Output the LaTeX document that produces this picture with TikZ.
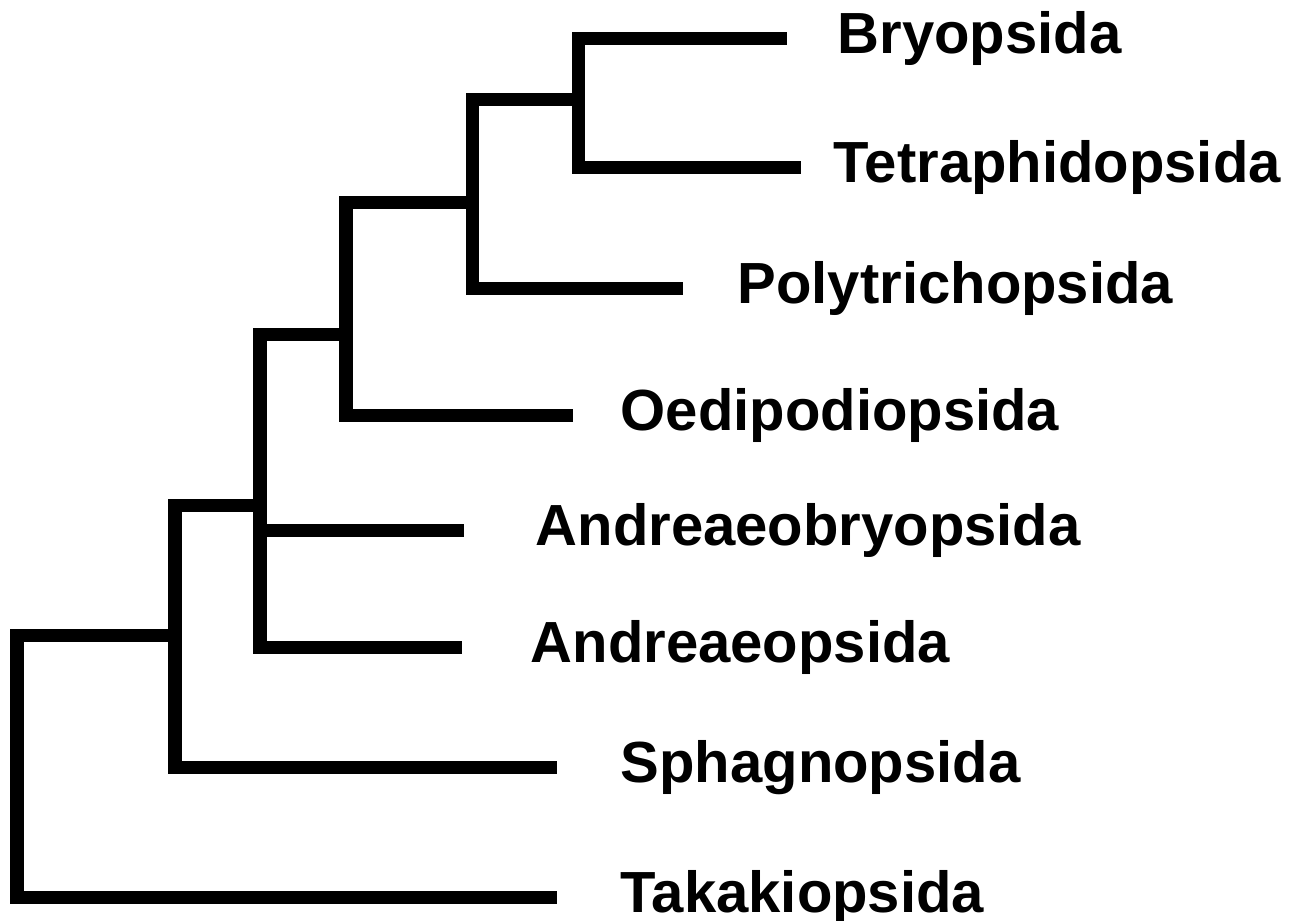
\documentclass[tikz,border=0pt]{standalone}
\usepackage{fontspec}
\setmainfont{Liberation Sans}
\begin{document}
\begin{tikzpicture}[x=0.01cm,y=-0.01cm,line join=miter,line cap=butt,
  branch/.style={line width=3.7pt},
  taxon/.style={anchor=base west,inner sep=0pt,font=\fontsize{16.5}{20}\selectfont\bfseries}]
  \useasboundingbox (0,0) rectangle (1291,920);
  \foreach \nm/\tipx/\y/\labx/\txt in {bry/787/38/837/Bryopsida,
      tet/801/167/833/Tetraphidopsida, pol/683/288/737/Polytrichopsida,
      oed/573/415/620/Oedipodiopsida, anb/464/530/535/Andreaeobryopsida,
      and/462/647/530/Andreaeopsida, sph/557/767/620/Sphagnopsida,
      tak/557/897/620/Takakiopsida}
  {
    \coordinate (\nm) at (\tipx,\y);
    \node[taxon] (\nm-lab) at (\labx,{\y+15}) {\txt};
  }
  \coordinate (c1) at (578,99);
  \coordinate (c2) at (472,202);
  \coordinate (c3) at (346,334);
  \coordinate (c4) at (260,505);
  \coordinate (c5) at (175,635);
  \coordinate (root) at (17,766);
  \draw[branch] (c1) |- (bry) (c1) |- (tet);
  \draw[branch] (c2) |- (c1) (c2) |- (pol);
  \draw[branch] (c3) |- (c2) (c3) |- (oed);
  \draw[branch] (c4) |- (c3) (c4) |- (anb) (c4) |- (and);
  \draw[branch] (c5) |- (c4) (c5) |- (sph);
  \draw[branch] (root) |- (c5) (root) |- (tak);
\end{tikzpicture}
\end{document}
